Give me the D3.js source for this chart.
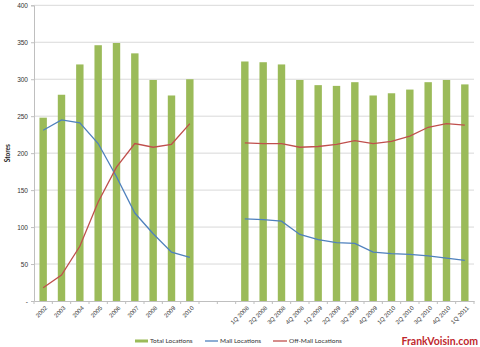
<!DOCTYPE html>
<html><head><meta charset="utf-8">
<script src="https://cdn.jsdelivr.net/npm/d3@7"></script>
<style>
body{margin:0;background:#fff;}
svg{display:block;font-family:Lato, "Open Sans", sans-serif;}
</style></head>
<body><svg id="c" width="480" height="347"></svg>
<script>
const categories = ["2002","2003","2004","2005","2006","2007","2008","2009","2010","","",
  "1Q 2008","2Q 2008","3Q 2008","4Q 2008","1Q 2009","2Q 2009","3Q 2009","4Q 2009",
  "1Q 2010","2Q 2010","3Q 2010","4Q 2010","1Q 2011"];
const totalLocations = [248,279,320,346,349,335,299,278,300,null,null,
  324,323,320,299,292,291,296,278,281,286,296,299,293];
const mallLocations = [231,245,241,213,168,119,91,66,59,null,null,
  111,110,108,90,83,79,78,66,64,63,61,58,55];
const offMallLocations = [18,35,74,134,181,213,208,212,240,null,null,
  214,213,213,208,209,212,217,213,216,223,235,240,238];
const yTicks = [0,50,100,150,200,250,300,350,400];
const seriesNames = ["Total Locations","Mall Locations","Off-Mall Locations"];

const svg = d3.select("#c");
const m = {l:34, r:474, t:5.3, b:301};
const x = d3.scaleBand().domain(d3.range(categories.length)).range([m.l, m.r]);
const y = d3.scaleLinear().domain([0,400]).range([m.b, m.t]);

// gridlines
svg.append("g").selectAll("line").data(yTicks.filter(d=>d>0)).join("line")
  .attr("x1", m.l).attr("x2", m.r).attr("y1", d=>y(d)).attr("y2", d=>y(d))
  .attr("stroke", "#d9d9d9").attr("stroke-width", 1);

// y axis
const ya = svg.append("g").attr("transform", `translate(${m.l},0)`)
  .call(d3.axisLeft(y).tickValues(yTicks).tickSize(3).tickPadding(3)
    .tickFormat(d => d === 0 ? "-" : d));
ya.select(".domain").attr("stroke", "#bfbfbf");
ya.selectAll(".tick line").attr("stroke", "#bfbfbf");
ya.selectAll("text").attr("font-size", 6.5).attr("fill", "#333");

// bars
const bw = 7.4;
svg.append("g").selectAll("rect").data(totalLocations.map((v,i)=>({v,i})).filter(d=>d.v!=null)).join("rect")
  .attr("x", d => x(d.i) + x.bandwidth()/2 - bw/2)
  .attr("width", bw)
  .attr("y", d => y(d.v))
  .attr("height", d => y(0) - y(d.v))
  .attr("fill", "#9bbb59");

// x axis
const xa = svg.append("g").attr("transform", `translate(0,${m.b})`)
  .call(d3.axisBottom(x).tickFormat(i => categories[i]).tickSize(0).tickPadding(0));
xa.select(".domain").attr("stroke", "#bfbfbf");
xa.selectAll("text").attr("font-size", 6).attr("fill", "#333")
  .attr("text-anchor", "end")
  .attr("transform", "translate(3,6) rotate(-45)")
  .attr("dy", "0.35em");
// boundary tick marks
svg.append("g").selectAll("line").data(d3.range(categories.length+1)).join("line")
  .attr("x1", i => m.l + i*x.step()).attr("x2", i => m.l + i*x.step())
  .attr("y1", m.b).attr("y2", m.b+3).attr("stroke", "#bfbfbf");

// lines
const line = d3.line().defined(d => d.v != null)
  .x(d => x(d.i) + x.bandwidth()/2).y(d => y(d.v));
svg.append("path").datum(mallLocations.map((v,i)=>({v,i})))
  .attr("d", line).attr("fill","none").attr("stroke","#4f81bd").attr("stroke-width",1.3);
svg.append("path").datum(offMallLocations.map((v,i)=>({v,i})))
  .attr("d", line).attr("fill","none").attr("stroke","#c0504d").attr("stroke-width",1.3);

// y title
svg.append("text").attr("transform", `translate(10,${(m.t+m.b)/2}) rotate(-90)`)
  .attr("text-anchor","middle").attr("font-size",6.5).attr("font-weight","bold")
  .attr("fill","#222").text("Stores");

// legend
const lg = svg.append("g").attr("font-size", 6.5).attr("fill", "#333");
const ly = 341;
lg.append("rect").attr("x",135).attr("y",ly-1.5).attr("width",13).attr("height",3).attr("fill","#9bbb59");
lg.append("text").attr("x",150).attr("y",ly).attr("dy","0.35em").text(seriesNames[0]);
lg.append("line").attr("x1",205).attr("x2",218).attr("y1",ly).attr("y2",ly).attr("stroke","#4f81bd").attr("stroke-width",1.3);
lg.append("text").attr("x",220).attr("y",ly).attr("dy","0.35em").text(seriesNames[1]);
lg.append("line").attr("x1",273).attr("x2",287).attr("y1",ly).attr("y2",ly).attr("stroke","#c0504d").attr("stroke-width",1.3);
lg.append("text").attr("x",289).attr("y",ly).attr("dy","0.35em").text(seriesNames[2]);

svg.append("text").attr("x",478).attr("y",341).attr("dy","0.35em").attr("text-anchor","end")
  .attr("font-size",10.5).attr("font-weight","bold").attr("fill","#c0272d").text("FrankVoisin.com");
</script></body></html>
